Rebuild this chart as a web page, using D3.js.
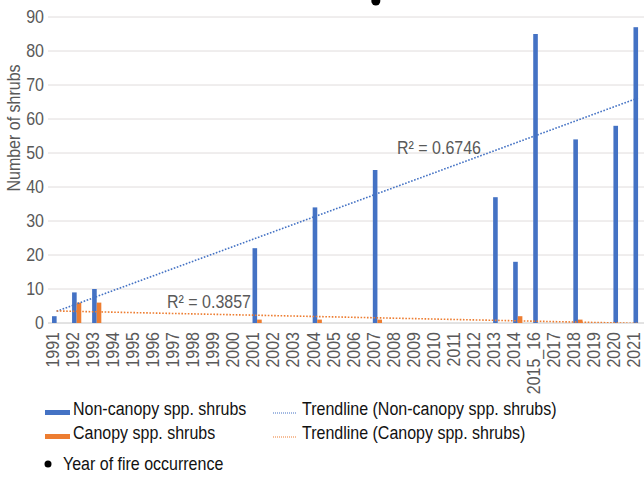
<!DOCTYPE html>
<html lang="en">
  <head>
    <meta charset="UTF-8">
    <title>Number of shrubs</title>
    <style>
      body { margin: 0; background: #fff; }
      text { font-family: "Liberation Sans", Arial, sans-serif; }
    </style>
  </head>
  <body>
    <svg id="chart"></svg>
    <script src="https://cdn.jsdelivr.net/npm/d3@7/dist/d3.min.js"></script>
    <script>
      // Category labels along the x axis
      var years = ["1991", "1992", "1993", "1994", "1995", "1996", "1997", "1998", "1999", "2000",
        "2001", "2002", "2003", "2004", "2005", "2006", "2007", "2008", "2009", "2010",
        "2011", "2012", "2013", "2014", "2015_16", "2017", "2018", "2019", "2020", "2021"];

      // null = blank cell (skipped by the trendline)
      var nonCanopy = [2, 9, 10, null, null, null, null, null, null, null,
        22, null, null, 34, null, null, 45, null, null, null,
        null, null, 37, 18, 85, null, 54, null, 58, 87];
      var canopy = [0, 6, 6, null, null, null, null, null, null, null,
        1, null, null, 1, null, null, 1, null, null, null,
        null, null, 0, 2, 0, null, 1, null, 0, 0];

      var fireYears = ["2007"];
      var yTicks = [0, 10, 20, 30, 40, 50, 60, 70, 80, 90];

      var width = 644, height = 477;
      var svg = d3.select("#chart").attr("width", width).attr("height", height);

      var x = d3.scaleBand().domain(years).range([44, 645.5]).padding(0);
      var y = d3.scaleLinear().domain([0, 90]).range([323, 17]);
      var center = function(d) { return x(d) + x.bandwidth() / 2; };
      var grey = "#595959";
      var stretch = " scale(1,1.13)"; // text in the source is a bit condensed

      // Gridlines
      svg.append("g")
        .selectAll("line")
        .data(yTicks)
        .enter()
        .append("line")
        .attr("x1", 48).attr("x2", width)
        .attr("y1", function(d) { return y(d); })
        .attr("y2", function(d) { return y(d); })
        .attr("stroke", function(d) { return d === 0 ? "#c6c6c6" : "#e0dcdc"; })
        .attr("stroke-width", 1);

      // Y axis labels
      svg.append("g")
        .selectAll("text")
        .data(yTicks)
        .enter()
        .append("text")
        .attr("transform", function(d) { return "translate(44," + y(d) + ")" + stretch; })
        .attr("dy", "0.35em")
        .attr("text-anchor", "end")
        .attr("font-size", 16)
        .attr("fill", grey)
        .text(function(d) { return d; });

      svg.append("text")
        .attr("transform", "translate(14,128) rotate(-90)" + stretch)
        .attr("dy", "0.35em")
        .attr("text-anchor", "middle")
        .attr("font-size", 16)
        .attr("fill", grey)
        .text("Number of shrubs");

      // X axis labels
      svg.append("g")
        .selectAll("text")
        .data(years)
        .enter()
        .append("text")
        .attr("transform", function(d) { return "translate(" + (center(d) - 1.5) + ",332) rotate(-90)" + stretch; })
        .attr("dy", "0.35em")
        .attr("text-anchor", "end")
        .attr("font-size", 16)
        .attr("fill", grey)
        .text(function(d) { return d; });

      var barW = 4.6;

      // Bars
      svg.append("g")
        .selectAll("rect")
        .data(years.filter(function(d, i) { return nonCanopy[i]; }))
        .enter()
        .append("rect")
        .attr("x", function(d) { return center(d) - 2; })
        .attr("width", barW)
        .attr("y", function(d) { return y(nonCanopy[years.indexOf(d)]); })
        .attr("height", function(d) { return y(0) - y(nonCanopy[years.indexOf(d)]); })
        .attr("fill", "#4472c4");

      svg.append("g")
        .selectAll("rect")
        .data(years.filter(function(d, i) { return canopy[i]; }))
        .enter()
        .append("rect")
        .attr("x", function(d) { return center(d) - 2 + barW; })
        .attr("width", barW)
        .attr("y", function(d) { return y(canopy[years.indexOf(d)]); })
        .attr("height", function(d) { return y(0) - y(canopy[years.indexOf(d)]); })
        .attr("fill", "#ed7d31");

      // Linear trendline over non-blank points (x = category position 1..n)
      function fit(values) {
        var pts = [];
        values.forEach(function(v, i) { if (v !== null) pts.push([i + 1, v]); });
        var mx = d3.mean(pts, function(p) { return p[0]; });
        var my = d3.mean(pts, function(p) { return p[1]; });
        var sxy = d3.sum(pts, function(p) { return (p[0] - mx) * (p[1] - my); });
        var sxx = d3.sum(pts, function(p) { return (p[0] - mx) * (p[0] - mx); });
        var syy = d3.sum(pts, function(p) { return (p[1] - my) * (p[1] - my); });
        var slope = sxy / sxx;
        return {
          slope: slope,
          intercept: my - slope * mx,
          r2: sxy * sxy / (sxx * syy),
          x0: pts[0][0],
          x1: pts[pts.length - 1][0]
        };
      }

      var xPos = function(i) { return center(years[0]) + 2.6 + (i - 1) * x.step(); };

      svg.append("clipPath").attr("id", "plot")
        .append("rect").attr("x", 48).attr("y", 0).attr("width", width).attr("height", y(0));

      function trend(values, color, labelX, labelY) {
        var f = fit(values);
        var pts = [f.x0, f.x1].map(function(i) { return [xPos(i), y(f.intercept + f.slope * i)]; });
        svg.append("line")
          .attr("clip-path", "url(#plot)")
          .attr("x1", pts[0][0]).attr("y1", pts[0][1])
          .attr("x2", pts[1][0]).attr("y2", pts[1][1])
          .attr("stroke", color)
          .attr("stroke-width", 1.6)
          .attr("stroke-dasharray", "1.6,1.6");
        svg.append("text")
          .attr("transform", "translate(" + labelX + "," + labelY + ")" + stretch)
          .attr("dy", "0.35em")
          .attr("font-size", 16)
          .attr("fill", grey)
          .text("R\u00b2 = " + f.r2.toFixed(4));
      }

      trend(nonCanopy, "#4472c4", 397, 147.5);
      trend(canopy, "#ed7d31", 167, 301.5);

      // Fire occurrence markers
      svg.append("g")
        .selectAll("circle")
        .data(fireYears)
        .enter()
        .append("circle")
        .attr("cx", function(d) { return center(d) + 1; })
        .attr("cy", 1)
        .attr("r", 4.5)
        .attr("fill", "#000");

      // Legend
      var legend = svg.append("g").attr("font-size", 16).attr("fill", "#111");
      function legendText(tx, ty, label) {
        legend.append("text")
          .attr("transform", "translate(" + tx + "," + ty + ")" + stretch)
          .text(label);
      }
      legend.append("rect").attr("x", 45).attr("y", 410).attr("width", 25).attr("height", 5).attr("fill", "#4472c4");
      legendText(73, 415, "Non-canopy spp. shrubs");
      legend.append("rect").attr("x", 45).attr("y", 434).attr("width", 25).attr("height", 5).attr("fill", "#ed7d31");
      legendText(73, 439, "Canopy spp. shrubs");
      legend.append("line").attr("x1", 273).attr("x2", 297).attr("y1", 413).attr("y2", 413)
        .attr("stroke", "#4472c4").attr("stroke-width", 1.2).attr("stroke-dasharray", "1,1");
      legendText(302, 415, "Trendline (Non-canopy spp. shrubs)");
      legend.append("line").attr("x1", 273).attr("x2", 297).attr("y1", 437).attr("y2", 437)
        .attr("stroke", "#ed7d31").attr("stroke-width", 1.2).attr("stroke-dasharray", "1,1");
      legendText(302, 439, "Trendline (Canopy spp. shrubs)");
      legend.append("circle").attr("cx", 48).attr("cy", 464).attr("r", 3.5).attr("fill", "#000");
      legendText(63, 470, "Year of fire occurrence");
    </script>
  </body>
</html>
